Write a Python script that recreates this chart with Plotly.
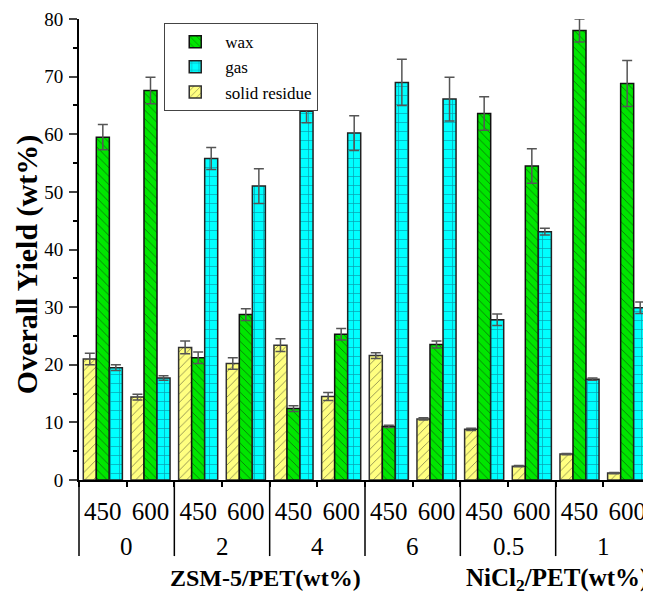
import plotly.graph_objects as go

loadings = ["0", "0", "2", "2", "4", "4", "6", "6", "0.5", "0.5", "1", "1"]
temps = ["450", "600"] * 6

solid = [21.0, 14.4, 23.0, 20.2, 23.4, 14.5, 21.6, 10.6, 8.8, 2.4, 4.5, 1.2]
solid_err = [1.0, 0.5, 1.1, 1.0, 1.1, 0.7, 0.5, 0.2, 0.2, 0.1, 0.1, 0.1]
wax = [59.5, 67.6, 21.2, 28.7, 12.4, 25.3, 9.3, 23.5, 63.6, 54.5, 78.0, 68.8]
wax_err = [2.2, 2.3, 1.0, 1.0, 0.5, 1.0, 0.2, 0.6, 2.9, 3.0, 2.0, 4.0]
gas = [19.5, 17.7, 55.8, 51.0, 64.0, 60.2, 69.0, 66.1, 27.8, 43.1, 17.5, 29.9]
gas_err = [0.5, 0.4, 1.9, 3.0, 2.0, 3.0, 4.0, 3.8, 1.0, 0.6, 0.2, 1.0]

font_family = "Liberation Serif"
cats = [f"{l}|{t}" for l, t in zip(loadings, temps)]
n = len(cats)

def err(vals):
    return dict(type="data", array=vals, visible=True, color="#555555", thickness=1.5, width=5)

fig = go.Figure()
fig.add_trace(go.Bar(
    x=cats, y=solid, name="solid residue", legendrank=3, error_y=err(solid_err),
    marker=dict(color="#FFFF80", line=dict(color="#333333", width=1.5),
                pattern=dict(shape="/", fgcolor="#222222", size=6, solidity=0.15)),
))
fig.add_trace(go.Bar(
    x=cats, y=wax, name="wax", legendrank=1, error_y=err(wax_err),
    marker=dict(color="#00E600", line=dict(color="#111111", width=1.5),
                pattern=dict(shape="\\", fgcolor="#111111", size=6, solidity=0.15)),
))
fig.add_trace(go.Bar(
    x=cats, y=gas, name="gas", legendrank=2, error_y=err(gas_err),
    marker=dict(color="#00FFFF", line=dict(color="#222222", width=1.5),
                pattern=dict(shape="+", fgcolor="#104060", size=9, solidity=0.15)),
))

fig.update_layout(
    width=643, height=586,
    margin=dict(l=71, r=0, t=11, b=114, autoexpand=False),
    barmode="group", bargap=0.18, bargroupgap=0,
    plot_bgcolor="white", paper_bgcolor="white",
    font=dict(family=font_family, size=16, color="black"),
    legend=dict(x=0.149, y=0.991, xanchor="left", yanchor="top",
                bgcolor="white", bordercolor="#444444", borderwidth=1, itemwidth=50,
                font=dict(size=17, family=font_family), tracegroupgap=0),
    showlegend=True,
)
fig.update_yaxes(
    range=[0, 80], dtick=10, ticks="outside", ticklen=8, tickwidth=2, automargin=False,
    showline=True, linecolor="black", linewidth=2, showgrid=False, zeroline=False,
    tickfont=dict(size=19, family=font_family), ticklabelstandoff=2,
    minor=dict(dtick=5, ticks="outside", ticklen=4, tickwidth=1.5, tickcolor="black"),
)
fig.update_xaxes(
    type="category", range=[-0.5, n - 0.5], tickmode="array", tickvals=cats, ticktext=temps,
    tickson="boundaries", showline=True, linecolor="black", linewidth=2, automargin=False,
    ticks="outside", ticklen=5, tickwidth=1.5, tickcolor="black",
    tickfont=dict(size=25, family=font_family), ticklabelstandoff=8, showgrid=False,
)

# outer group labels and dividers (pairs of temperatures)
groups = loadings[::2]
for k, g in enumerate(groups):
    fig.add_annotation(text=g, xref="x", yref="paper", x=2 * k + 0.5, y=-0.145,
                       showarrow=False, xanchor="center", yanchor="middle",
                       font=dict(size=25, family=font_family))
for k in range(len(groups) + 1):
    xp = (2 * k) / n
    fig.add_shape(type="line", xref="paper", yref="paper", x0=xp, x1=xp, y0=0, y1=-0.165,
                  line=dict(color="black", width=1.5))

fig.add_annotation(text="<b>Overall Yield (wt%)</b>", xref="paper", yref="paper",
                   x=-0.0909, y=0.466, textangle=-90, showarrow=False,
                   xanchor="center", yanchor="middle",
                   font=dict(size=30, family=font_family))
fig.add_annotation(text="<b>ZSM-5/PET(wt%)</b>", xref="paper", yref="paper",
                   x=0.326, y=-0.2126, showarrow=False, xanchor="center", yanchor="middle",
                   font=dict(size=24, family=font_family))
fig.add_annotation(text="<b>NiCl<sub>2</sub>/PET(wt%)</b>", xref="paper", yref="paper",
                   x=0.835, y=-0.215, showarrow=False, xanchor="center", yanchor="middle",
                   font=dict(size=25, family=font_family))

fig.write_html("out.html")
